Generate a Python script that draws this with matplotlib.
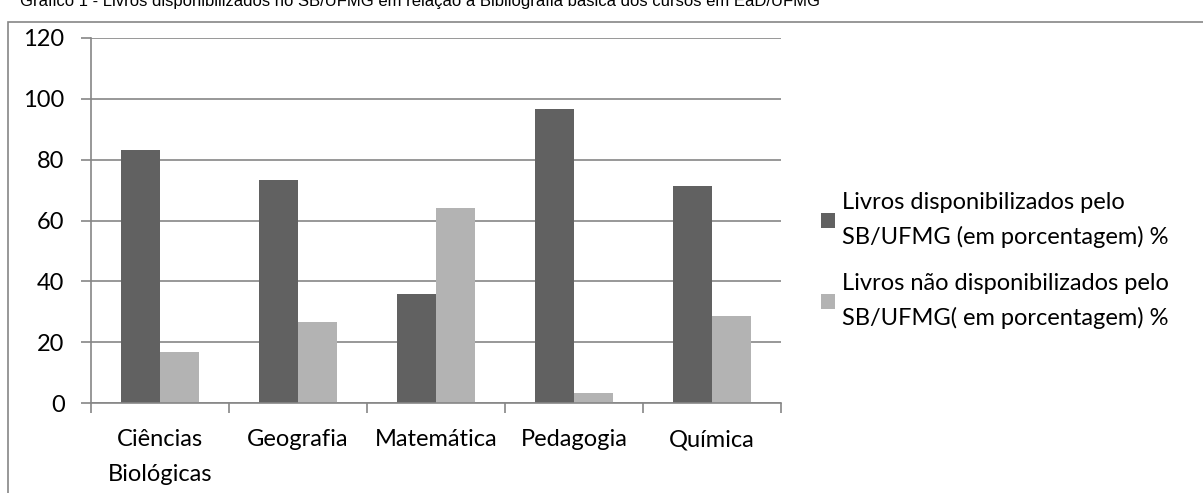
import matplotlib.pyplot as plt
import numpy as np
from matplotlib.patches import Rectangle

categorias = ["Ciências\nBiológicas", "Geografia", "Matemática", "Pedagogia", "Química"]
disponiveis = [83.3, 73.3, 36.0, 96.6, 71.4]
nao_disponiveis = [16.7, 26.7, 64.0, 3.4, 28.6]
rotulos = [
    "Livros disponibilizados pelo\nSB/UFMG (em porcentagem) %",
    "Livros não disponibilizados pelo\nSB/UFMG( em porcentagem) %",
]

W, H = 1203, 493
fig = plt.figure(figsize=(W / 100, H / 100), dpi=100)
plt.rcParams["font.family"] = ["Lato", "DejaVu Sans"]
fs = 17

# moldura do gráfico
fig.patches.append(Rectangle((8 / W, -0.1), 1.2, 1.1 - 22 / H, transform=fig.transFigure,
                             fill=False, edgecolor="#868686", linewidth=1.2))
fig.text(20 / W, 1 - 6 / H, "Gráfico 1 - Livros disponibilizados no SB/UFMG em relação à Bibliografia básica dos cursos em EaD/UFMG",
         family="Liberation Sans", fontsize=12, va="baseline", ha="left")

ax = fig.add_axes([91 / W, 1 - 403 / H, (781 - 91) / W, (403 - 38) / H])
x = np.arange(len(categorias))
w = 0.285
b1 = ax.bar(x - w / 2, disponiveis, w, color="#616161", label=rotulos[0])
b2 = ax.bar(x + w / 2, nao_disponiveis, w, color="#b3b3b3", label=rotulos[1])

ax.set_xlim(-0.5, len(categorias) - 0.5)
ax.set_ylim(0, 120)
ax.set_yticks(range(0, 121, 20))
ax.yaxis.grid(True, color="#868686", linewidth=1.2)
ax.set_axisbelow(True)
for s in ["top", "right"]:
    ax.spines[s].set_visible(False)
for s in ["left", "bottom"]:
    ax.spines[s].set_color("#868686")
    ax.spines[s].set_linewidth(1.2)

ax.set_xticks(np.arange(-0.5, len(categorias)), minor=False)
ax.set_xticklabels([])
ax.set_xticks(x, minor=True)
ax.set_xticklabels(categorias, minor=True, fontsize=fs, linespacing=1.8)
ax.tick_params(axis="x", which="minor", length=0, pad=19)
ax.tick_params(axis="x", which="major", length=7, color="#868686", width=1.2, direction="out")
ax.tick_params(axis="y", length=7, color="#868686", width=1.2, labelsize=fs, pad=12)

leg = fig.legend(handles=[b1, b2], loc="upper left", bbox_to_anchor=(800 / W, 1 - 171 / H),
                 frameon=False, fontsize=fs, handlelength=0.6, handleheight=0.6,
                 handletextpad=0.3, labelspacing=1.05)
for t in leg.get_texts():
    t.set_linespacing(1.72)

fig.savefig("out.png", dpi=100)
